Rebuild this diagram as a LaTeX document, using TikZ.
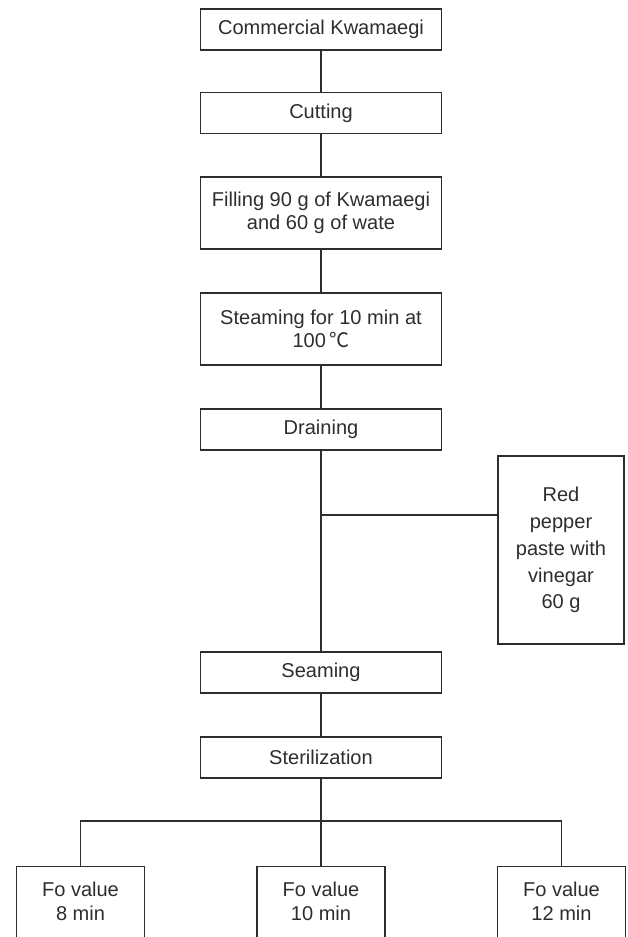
\documentclass[tikz,border=0pt]{standalone}
\usepackage{fontspec}
\setmainfont{Liberation Sans}
\newfontfamily\cjk{Noto Sans CJK SC}
\usetikzlibrary{positioning}
\definecolor{ink}{RGB}{45,45,45}
\tikzset{
  stepbox/.style={draw=ink,line width=0.6pt,text=ink,align=center,
    minimum width=4.82cm,minimum height=0.82cm,inner sep=1pt,
    font=\fontsize{11.4}{13}\selectfont},
  tallbox/.style={stepbox,minimum height=1.44cm},
  sidebox/.style={stepbox,minimum width=2.52cm,minimum height=3.76cm,
    font=\fontsize{11.4}{15.3}\selectfont},
  fobox/.style={stepbox,draw=none,minimum width=2.54cm,minimum height=1.36cm,
    font=\fontsize{11.4}{13.6}\selectfont},
  link/.style={draw=ink,line width=0.6pt}
}
\begin{document}
\begin{tikzpicture}[x=0.02cm,y=-0.02cm]
\useasboundingbox (0,0) rectangle (627,937);
\clip (0,0) rectangle (627,937);

\node[stepbox] (com) at (321,29.5) {Commercial Kwamaegi};
\node[stepbox] (cut) at (321,113) {Cutting};
\node[tallbox] (fill) at (321,213) {Filling 90 g of Kwamaegi\\and 60 g of wate};
\node[tallbox] (steam) at (321,329) {Steaming for 10 min at\\100\,{\cjk ℃}};
\node[stepbox] (drain) at (321,429.5) {Draining};
\node[sidebox] (paste) at (561,550) {Red\\pepper\\paste with\\vinegar\\60 g};
\node[stepbox] (seam) at (321,672.5) {Seaming};
\node[stepbox] (steril) at (321,757.5) {Sterilization};

\node[fobox] (fo8) at (80.5,901) {Fo value\\8 min};
\node[fobox] (fo10) at (321,901) {Fo value\\10 min};
\node[fobox] (fo12) at (561.5,901) {Fo value\\12 min};
\foreach \f in {fo8,fo10,fo12}
  \draw[link] ([yshift=-10pt]\f.south west) -- (\f.north west) -- (\f.north east) -- ([yshift=-10pt]\f.south east);

\draw[link] (com) -- (cut);
\draw[link] (cut) -- (fill);
\draw[link] (fill) -- (steam);
\draw[link] (steam) -- (drain);
\draw[link] (drain) -- (seam);
\coordinate (join) at (321,515);
\draw[link] (join) -- (join -| paste.west);
\draw[link] (seam) -- (steril);

\coordinate (split) at (321,821);
\draw[link] (steril) -- (fo10);
\draw[link] (fo8.north) -- (fo8.north |- split) -- (fo12.north |- split) -- (fo12.north);
\end{tikzpicture}
\end{document}
